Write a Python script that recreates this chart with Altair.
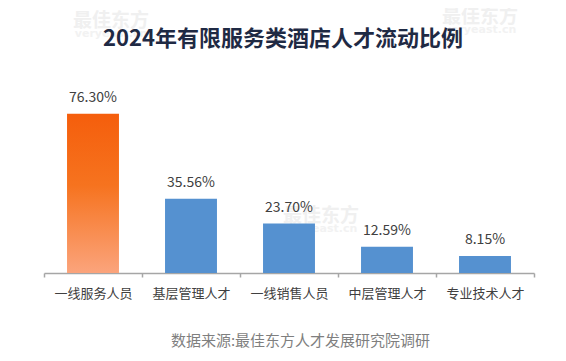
import altair as alt
import pandas as pd

categories = ["一线服务人员", "基层管理人才", "一线销售人员", "中层管理人才", "专业技术人才"]
values = [76.30, 35.56, 23.70, 12.59, 8.15]
labels = ["76.30%", "35.56%", "23.70%", "12.59%", "8.15%"]
highlight = [1, 0, 0, 0, 0]
title_text = "2024年有限服务类酒店人才流动比例"
source_text = "数据来源:最佳东方人才发展研究院调研"

df = pd.DataFrame({"cat": categories, "val": values, "label": labels, "hl": highlight})

FONT = "Noto Sans CJK SC"

x = alt.X(
    "cat:N",
    sort=categories,
    scale=alt.Scale(paddingInner=0, paddingOuter=0),
    axis=alt.Axis(
        title=source_text,
        titleFont=FONT,
        titleFontSize=15,
        titleFontWeight="normal",
        titleColor="#7F7F7F",
        titlePadding=33,
        titleX=256,
        labelFont=FONT,
        labelFontSize=13,
        labelColor="#404040",
        labelAngle=0,
        labelPadding=10,
        domainColor="#A6A6A6",
        domainWidth=1.5,
        tickColor="#A6A6A6",
        tickWidth=1.5,
        tickSize=4,
        tickBand="extent",
    ),
)
y = alt.Y("val:Q", scale=alt.Scale(domain=[0, 80]), axis=None)

base = alt.Chart(df).encode(x=x, y=y)

# faint watermarks (decoration)
wm = []
for (wx, wy) in [(67, -85), (277, 110), (436, -89)]:
    wm.append(
        alt.Chart(df.head(1)).mark_text(
            text="最佳东方", font=FONT, fontSize=19, fontWeight="bold", color="#F0F0F0"
        ).encode(x=alt.value(wx), y=alt.value(wy))
    )
    wm.append(
        alt.Chart(df.head(1)).mark_text(
            text="veryeast.cn", font="DejaVu Sans", fontSize=11, fontWeight="bold", color="#F2F2F2"
        ).encode(x=alt.value(wx), y=alt.value(wy + 13))
    )

title = alt.Chart(df.head(1)).mark_text(
    text=title_text, font=FONT, fontSize=22, fontWeight="bold", color="#1F2A44",
    baseline="middle", align="center",
).encode(x=alt.value(239), y=alt.value(-67))

BW = alt.RelativeBandSize(0.53)
blue = base.transform_filter("datum.hl == 0").mark_bar(color="#5591D0", width=BW)
orange = base.transform_filter("datum.hl == 1").mark_bar(
    width=BW,
    color=alt.Gradient(
        gradient="linear",
        stops=[
            alt.GradientStop(color="#F55E0C", offset=0),
            alt.GradientStop(color="#F6731F", offset=0.45),
            alt.GradientStop(color="#FBA47C", offset=1),
        ],
        x1=0, x2=0, y1=0, y2=1,
    ),
)
text = base.mark_text(font=FONT, fontSize=14, color="#404040", baseline="middle", dy=-16).encode(
    text="label:N"
)

chart = (
    alt.layer(*wm, title, blue, orange, text)
    .properties(
        width=490,
        height=167,
        padding={"left": 36, "top": 98, "right": 10, "bottom": 80},
        autosize=alt.AutoSizeParams(type="none"),
    )
    .configure_view(stroke=None)
)

chart.save("out.html", embed_options={"renderer": "svg", "actions": False})
